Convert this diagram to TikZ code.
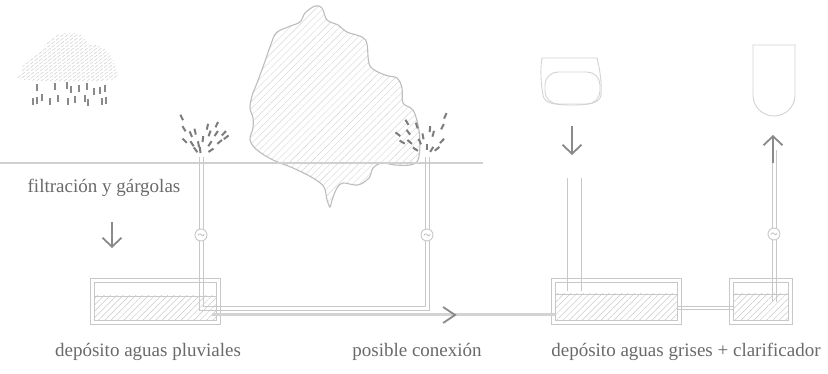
\documentclass[tikz,border=0pt]{standalone}
\usepackage{fontspec}
\setmainfont{Liberation Serif}
\usetikzlibrary{patterns.meta,arrows.meta,calc}

\definecolor{pipe}{HTML}{C8C8C8}
\definecolor{ink}{HTML}{6A6A6A}
\definecolor{arrowgray}{HTML}{8A8A8A}
\definecolor{spraygray}{HTML}{7C7C7C}
\definecolor{hatchgray}{HTML}{CACACA}
\definecolor{treehatch}{HTML}{D6D6D6}
\definecolor{cloudhatch}{HTML}{D0D0D0}

\tikzset{
  wall/.style={draw=pipe, line width=0.9pt},
  pipeline/.style={draw=pipe, line width=0.9pt},
  water/.style={pattern={Lines[angle=45,distance=4.5pt,line width=0.5pt]}, pattern color=hatchgray},
  valve/.style={circle, draw=pipe, fill=white, line width=0.9pt, minimum size=12pt, inner sep=0pt},
  flow/.style={draw=arrowgray, line width=1.8pt, -{Straight Barb[length=9pt,width=19pt,line width=1.8pt]}},
  spray/.style={draw=spraygray, line width=2pt},
  rain/.style={draw=arrowgray, line width=1.3pt},
  label/.style={text=ink, font=\fontsize{19}{22}\selectfont, anchor=base, inner sep=0pt},
}

\begin{document}
\begin{tikzpicture}[x=1pt,y=-1pt]
\path[fill=white] (0,0) rectangle (828,374);
\useasboundingbox (0,0) rectangle (828,374);

% ---------- cloud and rain ----------
\begin{scope}
  \clip plot[smooth cycle, tension=0.7] coordinates {(26,80) (22,71) (25,62) (33,56) (42,50) (48,41) (58,35) (70,32) (82,36) (89,44) (100,46) (110,55) (115,68) (110,80)};
  \foreach \k in {-30,...,40}
    \draw[draw=cloudhatch, line width=0.5pt, dash pattern=on 4pt off 1.5pt] (\k*4.6,88) -- ++(70,-55);
\end{scope}
\foreach \x/\y in {37/88, 55/87, 67/86, 71/90, 79/89, 87/87, 94/92, 100/91, 105/89,
                   33/102, 37/101, 42/98, 50/102, 58/99, 68/102, 75/100, 85/99, 88/103, 102/102, 106/101}
  \draw[rain] (\x,\y-3.5) -- (\x,\y+3.5);

% ---------- tree ----------
\path[draw=pipe!85!gray, line width=1.1pt, pattern={Lines[angle=45,distance=5pt,line width=0.4pt]}, pattern color=treehatch]
  plot[smooth cycle, tension=0.55] coordinates {
    (315,6) (322,8) (327,20) (338,25) (347,32) (362,37) (367,44) (370,66) (385,75) (397,78) (402,88)
    (403,103) (413,110) (418,125) (420,143) (418,160) (410,165) (395,165) (382,163) (373,168)
    (369,178) (358,185) (343,183) (337,188) (332,200) (330,207) (327,200) (324,187) (313,178)
    (293,168) (273,160) (257,150) (250,140) (253,128) (253,118) (250,108) (252,96) (257,83)
    (263,67) (270,47) (276,33) (288,27) (300,22) (305,13)};

% ---------- ground line ----------
\draw[draw=pipe!85!white, line width=1.4pt] (0,163) -- (483,163);

% ---------- rainwater tank ----------
\draw[wall] (90,278) rectangle (220,324);
\draw[wall] (94,282) rectangle (216,320);
\path[water] (94,296) rectangle (216,320);
\draw[wall, line width=0.6pt] (94,296) -- (216,296);

% ---------- grey water tank and clarifier ----------
\draw[wall] (551,278) rectangle (681,324);
\draw[wall] (555,282) rectangle (677,320);
\path[water] (555,294) rectangle (677,320);
\draw[wall, line width=0.6pt] (555,294) -- (677,294);

\draw[wall] (729,278) rectangle (792,324);
\draw[wall] (733,282) rectangle (788,320);
\path[water] (733,294) rectangle (788,320);
\draw[wall, line width=0.6pt] (733,294) -- (788,294);

% ---------- named points of the pipe network ----------
\coordinate (g1) at (201,157);
\coordinate (g2) at (427,157);
\coordinate (toiletpipe) at (574,178);
\coordinate (sinkpipe) at (774,150);

% U-shaped gargoyle pipe (double wall)
\draw[pipeline] ($(g1)+(-2,0)$) |- (429,310) -- ($(g2)+(2,0)$);
\draw[pipeline] ($(g1)+(2,0)$) |- (425,306) -- ($(g2)+(-2,0)$);

% toilet downpipe into the grey water tank
\draw[pipeline] ($(toiletpipe)+(-7,0)$) -- (567,291);
\draw[pipeline] ($(toiletpipe)+(7,0)$) -- (581,291);

% link between tank and clarifier
\draw[pipeline] (677,306) -- (733,306);
\draw[pipeline] (677,309) -- (733,309);

% supply pipe from the clarifier up to the fixture
\draw[pipeline] ($(sinkpipe)+(-2,0)$) -- (772,302);
\draw[pipeline] ($(sinkpipe)+(2,0)$) -- (776,302);

% possible connection between both tanks
\coordinate (linkA) at (212,315);
\coordinate (linkB) at (555,315);
\draw[draw=pipe!80!white, line width=3pt] (linkA) -- (linkB);
\draw[draw=arrowgray, line width=1.8pt] (443,307) -- (455,315) -- (443,323);

% ---------- valves ----------
\foreach \n/\x/\y in {v1/201/235, v2/427/235, v3/774/234} {
  \node[valve] (\n) at (\x,\y) {};
  \draw[draw=pipe!80!gray, line width=0.7pt] ($(\n.center)+(-3.2,0.5)$) .. controls ($(\n.center)+(-1.5,-2.2)$) and ($(\n.center)+(0,-1)$) .. ($(\n.center)+(0.5,0)$)
     .. controls ($(\n.center)+(1,1)$) and ($(\n.center)+(2.5,1.8)$) .. ($(\n.center)+(3.2,-0.8)$);
}

% ---------- gargoyle sprays ----------
\foreach \a/\r in {116/44, 121/33, 114/25, 103/26, 78/31, 64/36, 46/33, 135/23, 124/16, 101/13,
                   84/18, 70/25, 57/28, 38/32, 56/16, 39/24, 127/9, 97/7, 34/12}
  \draw[spray] ($(g1)+({-\a}:{\r-3})$) -- ($(g1)+({-\a}:{\r+3})$);
\foreach \a/\r in {66/45, 63/34, 84/28, 75/24, 47/22, 101/21, 108/33, 120/40, 127/31, 142/37,
                   149/29, 139/23, 146/14, 115/17, 90/10, 58/9, 39/13}
  \draw[spray] ($(g2)+({-\a}:{\r-3})$) -- ($(g2)+({-\a}:{\r+3})$);

% ---------- toilet and wash basin ----------
\draw[draw=pipe!80!white, line width=0.9pt]
  (542,58) -- (597,58) .. controls (600,70) and (602,84) .. (601,95)
  .. controls (600,103) and (590,105) .. (572,105)
  .. controls (553,105) and (544,103) .. (543,95)
  .. controls (541,84) and (540,70) .. (542,58) -- cycle;
\draw[draw=pipe!80!white, line width=0.9pt, rounded corners=13pt] (545,72) rectangle (600,104);
\draw[draw=pipe!80!white, line width=0.9pt] (753,45) -- (753,95) arc[start angle=180, end angle=0, radius=21] -- (795,45) -- cycle;

% ---------- flow arrows ----------
\coordinate (fa1) at (112,222); \coordinate (fa2) at (112,248);
\coordinate (ta1) at (572,126); \coordinate (ta2) at (572,155);
\coordinate (sa1) at (773,163); \coordinate (sa2) at (773,135);
\draw[flow] (fa1) -- (fa2);
\draw[flow] (ta1) -- (ta2);
\draw[flow] (sa1) -- (sa2);

% ---------- labels ----------
\node[label] (lfilt) at (104,193) {filtración y gárgolas};
\node[label] (lrain) at (148,356) {depósito aguas pluviales};
\node[label] (lconn) at (417,356) {posible conexión};
\node[label] (lgrey) at (686,356) {depósito aguas grises + clarificador};
\end{tikzpicture}
\end{document}
